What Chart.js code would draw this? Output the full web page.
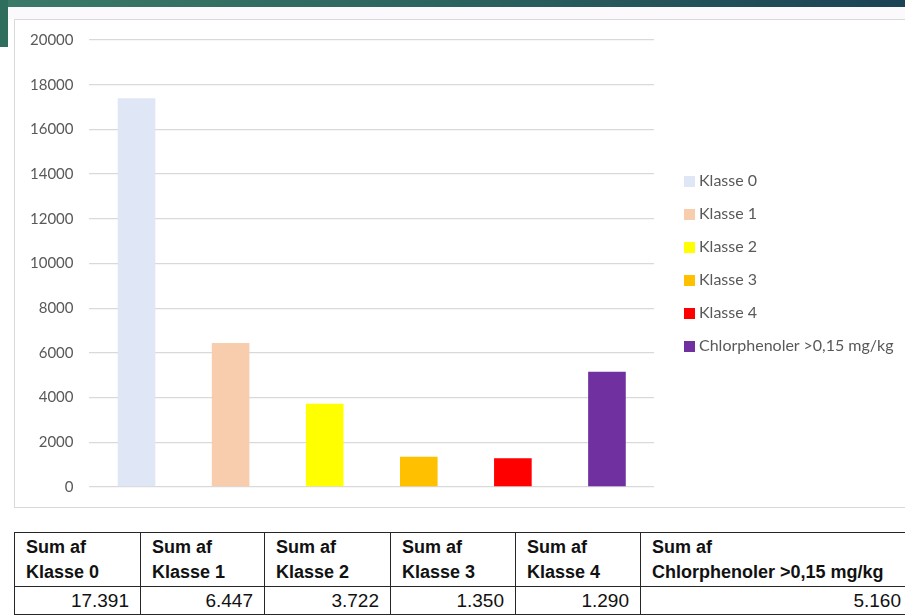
<!DOCTYPE html>
<html>
<head>
<meta charset="utf-8">
<script src="https://cdn.jsdelivr.net/npm/chart.js@4"></script>
<style>
    html, body { margin: 0; padding: 0; }
    body {
        width: 905px; height: 616px; overflow: hidden; position: relative;
        background: #ffffff; font-family: Lato, "Open Sans", sans-serif;
    }
    .topband {
        position: absolute; left: 0; top: 0; width: 905px; height: 7px;
        background: linear-gradient(to right, #3b7a68, #2d6660 45%, #1b4255);
    }
    .strip {
        position: absolute; left: 0; top: 7px; width: 905px; height: 12px;
        background: #fbf9fc;
    }
    .sidebar {
        position: absolute; left: 0; top: 0; width: 8px; height: 47px;
        background: #2f6e5d;
    }
    .panel {
        position: absolute; left: 14px; top: 19px; width: 900px; height: 489px;
        background: #fff; border: 1px solid #d9d9d9; box-sizing: border-box;
    }
    .chartBox {
        position: absolute; left: 14px; top: 15px; width: 891px; height: 497px;
    }
    #legend {
        position: absolute; left: 684px; top: 171px; margin: 0; padding: 0;
        list-style: none; font-size: 16px; color: #595959;
    }
    #legend li { height: 33px; line-height: 18px; white-space: nowrap; }
    #legend span.box {
        display: inline-block; width: 11px; height: 11px; margin-right: 4px;
        vertical-align: -1px;
    }
    table.sums {
        position: absolute; left: 14px; top: 532px; table-layout: fixed;
        border-collapse: collapse; font-family: "Liberation Sans", Arial, sans-serif;
        color: #111;
    }
    table.sums td {
        border: 1.5px solid #262626; padding: 0 11px; vertical-align: middle;
        overflow: hidden; white-space: nowrap;
    }
    table.sums tr.head td {
        font-weight: bold; font-size: 18px; line-height: 25px; height: 53px;
        text-align: left;
    }
    table.sums tr.vals td {
        font-size: 19px; height: 27px; line-height: 22px; text-align: right;
    }
</style>
</head>
<body>
<div class="topband"></div>
<div class="strip"></div>
<div class="sidebar"></div>
<div class="panel"></div>
<div class="chartBox"><canvas id="barChart"></canvas></div>
<ul id="legend"></ul>
<table class="sums" id="sumTable"></table>

<script>
// Chart data
const categories = ['Klasse 0', 'Klasse 1', 'Klasse 2', 'Klasse 3', 'Klasse 4', 'Chlorphenoler >0,15 mg/kg'];
const sums = [17391, 6447, 3722, 1350, 1290, 5160];
const barColors = ['#dfe6f6', '#f8cdae', '#ffff00', '#ffc000', '#ff0000', '#7030a0'];
const yTicks = [0, 2000, 4000, 6000, 8000, 10000, 12000, 14000, 16000, 18000, 20000];
const colWidths = [126, 124, 126, 125, 125, 272];

// Legend (html, excel style)
function buildLegend() {
    const ul = document.getElementById('legend');
    categories.forEach((name, i) => {
        const li = document.createElement('li');
        const box = document.createElement('span');
        box.className = 'box';
        box.style.background = barColors[i];
        li.appendChild(box);
        li.appendChild(document.createTextNode(name));
        ul.appendChild(li);
    });
}

// Pivot table under the chart
function buildTable() {
    const table = document.getElementById('sumTable');
    const cols = document.createElement('colgroup');
    let total = 0;
    colWidths.forEach(w => {
        const col = document.createElement('col');
        col.style.width = w + 'px';
        cols.appendChild(col);
        total += w;
    });
    table.style.width = total + 'px';
    table.appendChild(cols);

    const head = document.createElement('tr');
    head.className = 'head';
    const vals = document.createElement('tr');
    vals.className = 'vals';
    categories.forEach((name, i) => {
        const th = document.createElement('td');
        th.innerHTML = 'Sum af<br>' + name;
        head.appendChild(th);
        const td = document.createElement('td');
        td.textContent = sums[i].toLocaleString('da-DK');
        vals.appendChild(td);
    });
    table.appendChild(head);
    table.appendChild(vals);
}

function drawChart() {
    const ctx = document.getElementById('barChart');
    new Chart(ctx, {
        type: 'bar',
        data: {
            labels: categories,
            datasets: [{
                data: sums,
                backgroundColor: barColors,
                borderWidth: 0,
                categoryPercentage: 1,
                barPercentage: 0.4
            }]
        },
        options: {
            responsive: true,
            maintainAspectRatio: false,
            animation: false,
            layout: {
                padding: { left: 0, right: 251, top: 0, bottom: 0 }
            },
            plugins: {
                legend: { display: false },
                tooltip: { enabled: false }
            },
            scales: {
                x: {
                    display: false
                },
                y: {
                    min: 0,
                    max: 20000,
                    afterBuildTicks: axis => { axis.ticks = yTicks.map(v => ({ value: v })); },
                    grid: { color: '#d9d9d9', lineWidth: 1.3, drawTicks: false },
                    border: { display: false },
                    ticks: {
                        padding: 16,
                        color: '#595959',
                        font: { family: 'Lato', size: 15 },
                        callback: value => String(value)
                    }
                }
            }
        }
    });
}

buildLegend();
buildTable();
drawChart();
</script>
</body>
</html>
